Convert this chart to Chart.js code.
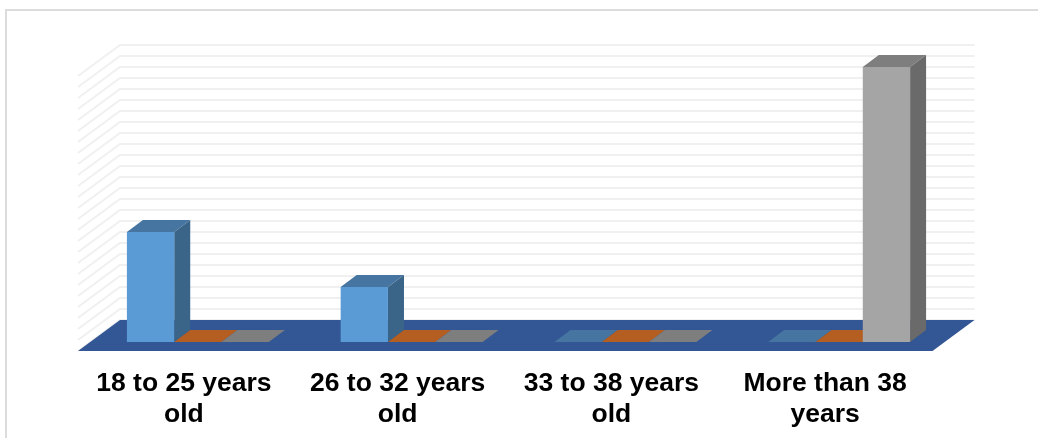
<!DOCTYPE html>
<html>
<head>
<meta charset="utf-8">
<title>Age groups</title>
<script src="https://cdn.jsdelivr.net/npm/chart.js@4/dist/chart.umd.min.js"></script>
<style>
    html, body { margin: 0; background: #fff; overflow: hidden; }
    #frame { position: absolute; left: 5px; top: 9px; right: 0; bottom: 0; border-left: 2px solid #dcdcdc; border-top: 2px solid #dcdcdc; }
    canvas { position: absolute; left: 0; top: 0; }
</style>
</head>
<body>
<div id="frame"></div>
<canvas id="ageChart" width="1038" height="438"></canvas>
<script>
const categories = [
    ["18 to 25 years", "old"],
    ["26 to 32 years", "old"],
    ["33 to 38 years", "old"],
    ["More than 38", "years"]
];
const seriesOne = [2, 1, 0, 0];
const seriesTwo = [0, 0, 0, 0];
const seriesThree = [0, 0, 0, 5];
const axisMax = 5;
const axisStep = 0.2;

// fake 3D look: how far the faces are pushed back
const barDepth = { x: 16, y: 12 };
const floor = { front: 9, back: 22, left: 13, right: 28.5, slant: 42, depth: 31 };
const faceColors = [
    { top: "#4575a0", side: "#3a6488" },
    { top: "#b55e22", side: "#9c4f1c" },
    { top: "#7e7e7e", side: "#6a6a6a" }
];

function polygon(ctx, points, color) {
    ctx.fillStyle = color;
    ctx.beginPath();
    points.forEach(([x, y], i) => (i ? ctx.lineTo(x, y) : ctx.moveTo(x, y)));
    ctx.closePath();
    ctx.fill();
}

const wallAndFloor = {
    id: "wallAndFloor",
    beforeDatasetsDraw(chart) {
        const { ctx, chartArea, scales } = chart;
        const zero = scales.y.getPixelForValue(0);
        const backLeft = chartArea.left - floor.left + floor.slant;
        const backRight = chartArea.right + floor.right;

        // wall lines with their slanted part on the left side
        ctx.save();
        ctx.strokeStyle = "#f0f0f0";
        ctx.lineWidth = 2;
        scales.y.ticks.forEach(tick => {
            const y = scales.y.getPixelForValue(tick.value) - floor.back;
            ctx.beginPath();
            ctx.moveTo(backLeft - floor.slant, y + floor.depth);
            ctx.lineTo(backLeft, y);
            ctx.lineTo(backRight, y);
            ctx.stroke();
        });
        ctx.restore();

        const frontY = zero + floor.front;
        const backY = zero - floor.back;
        polygon(ctx, [
            [backLeft - floor.slant, frontY],
            [backLeft, backY],
            [backRight, backY],
            [backRight - floor.slant, frontY]
        ], "#335695");

        // top and side faces of every bar, zero bars only show their top
        chart.data.datasets.forEach((ds, i) => {
            const colors = faceColors[i];
            chart.getDatasetMeta(i).data.forEach(bar => {
                const left = bar.x - bar.width / 2;
                const right = bar.x + bar.width / 2;
                polygon(ctx, [
                    [left, bar.y],
                    [left + barDepth.x, bar.y - barDepth.y],
                    [right + barDepth.x, bar.y - barDepth.y],
                    [right, bar.y]
                ], colors.top);
                if (bar.base - bar.y > 0) {
                    polygon(ctx, [
                        [right, bar.y],
                        [right + barDepth.x, bar.y - barDepth.y],
                        [right + barDepth.x, bar.base - barDepth.y],
                        [right, bar.base]
                    ], colors.side);
                }
            });
        });
    }
};

new Chart(document.getElementById("ageChart"), {
    type: "bar",
    data: {
        labels: categories,
        datasets: [
            { label: "Series 1", data: seriesOne, backgroundColor: "#5b9bd5" },
            { label: "Series 2", data: seriesTwo, backgroundColor: "#ed7d31" },
            { label: "Series 3", data: seriesThree, backgroundColor: "#a5a5a5" }
        ]
    },
    options: {
        responsive: false,
        animation: false,
        categoryPercentage: 0.664,
        barPercentage: 1,
        layout: { padding: { left: 91, right: 92, top: 67, bottom: 0 } },
        plugins: {
            legend: { display: false },
            tooltip: { enabled: false }
        },
        scales: {
            x: {
                border: { display: false },
                grid: { display: false },
                afterFit: scale => { scale.height = 96; },
                ticks: {
                    color: "#000",
                    padding: 18,
                    labelOffset: -14,
                    autoSkip: false,
                    maxRotation: 0,
                    font: { family: "Liberation Sans", size: 26.5, weight: "bold", lineHeight: 1.17 }
                }
            },
            y: {
                display: false,
                min: 0,
                max: axisMax,
                ticks: { stepSize: axisStep, maxTicksLimit: 30, autoSkip: false }
            }
        }
    },
    plugins: [wallAndFloor]
});
</script>
</body>
</html>
